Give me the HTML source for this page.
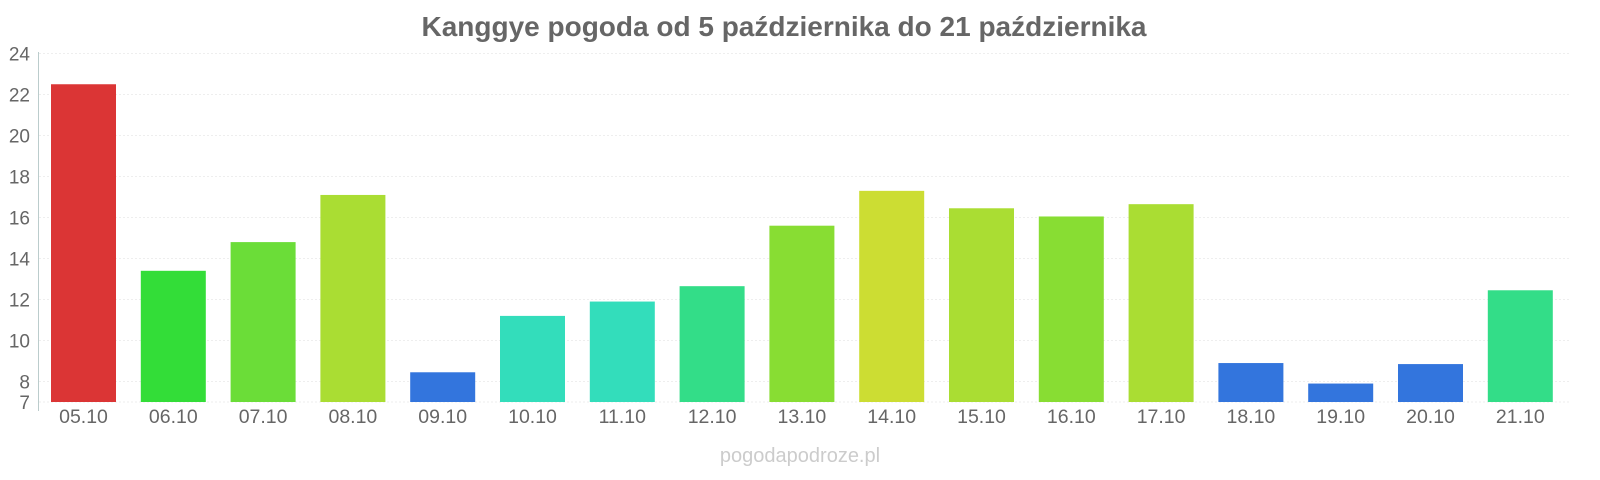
<!DOCTYPE html><html><head><meta charset="utf-8"><style>body{margin:0;background:#fff}svg{display:block}text{font-family:"Liberation Sans",sans-serif}</style></head><body>
<svg width="1600" height="480" xmlns="http://www.w3.org/2000/svg">
<text x="784" y="36" text-anchor="middle" font-size="28" font-weight="bold" fill="#666">Kanggye pogoda od 5 października do 21 października</text>
<g id="g"></g>
<text x="800" y="462" text-anchor="middle" font-size="20" fill="#ccc">pogodapodroze.pl</text>
</svg>
<script>
const g=document.getElementById('g');let h='';
const Y=v=>53.5+(24-v)*20.5;
[24,22,20,18,16,14,12,10,8,7].forEach(v=>{h+=`<line x1="39" x2="1570" y1="${Y(v)}" y2="${Y(v)}" stroke="#eee" stroke-dasharray="2,2"/><text x="30" y="${Y(v)+7}" text-anchor="end" font-size="19" fill="#666">${v}</text>`});
h+=`<line x1="38.5" x2="38.5" y1="52" y2="411" stroke="#bcc"/>`;
const d=[[22.5,'#db3535'],[13.4,'#33dd38'],[14.8,'#6bdd38'],[17.1,'#aadd33'],[8.45,'#3375dd'],[11.2,'#33ddbb'],[11.9,'#33ddbb'],[12.65,'#33dd88'],[15.6,'#88dd33'],[17.3,'#ccdd33'],[16.45,'#aadd33'],[16.05,'#88dd33'],[16.65,'#aadd33'],[8.9,'#3375dd'],[7.9,'#3375dd'],[8.85,'#3375dd'],[12.45,'#33dd88']];
d.forEach((b,i)=>{const cx=83.5+i*89.8,t=Y(b[0]);h+=`<rect x="${cx-32.5}" y="${t}" width="65" height="${402-t}" fill="${b[1]}"/><text x="${cx}" y="423" text-anchor="middle" font-size="19.5" fill="#666">${String(5+i).padStart(2,'0')}.10</text>`});
g.innerHTML=h;
</script></body></html>
